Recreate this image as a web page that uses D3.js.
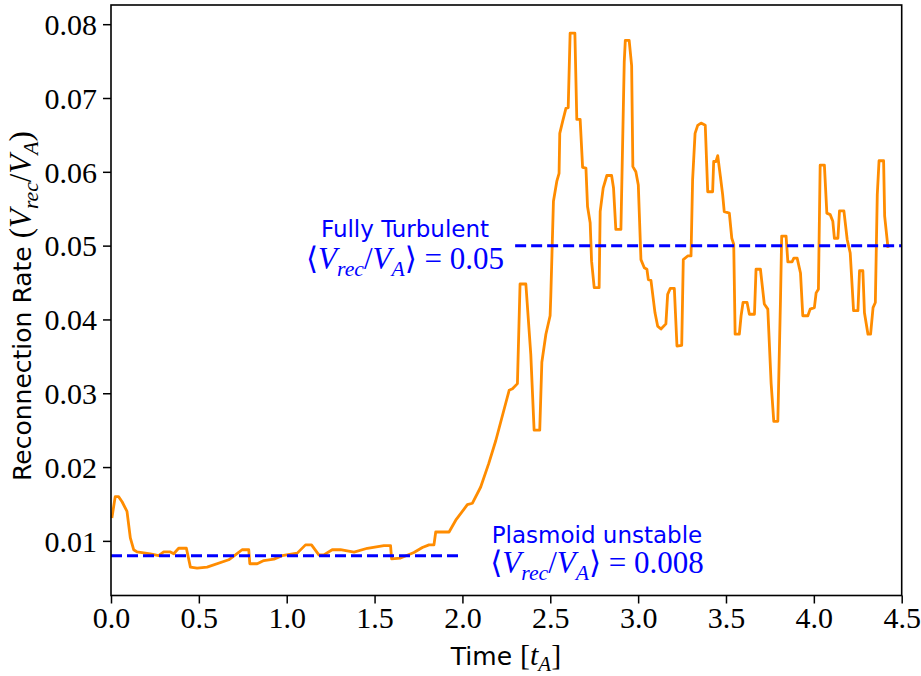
<!DOCTYPE html>
<html>
<head>
<meta charset="utf-8">
<script src="https://cdn.jsdelivr.net/npm/d3@7"></script>
<style>
  html, body { margin: 0; padding: 0; background: #fff; }
  svg { display: block; }
</style>
</head>
<body>
<svg id="chart" width="921" height="676"></svg>
<script>
// Reconnection rate time series (time in t_A, rate in V_A units)
const time = [
  0.005, 0.024, 0.043, 0.063, 0.091, 0.110, 0.129, 0.148, 0.224, 0.271,
  0.300, 0.338, 0.357, 0.385, 0.429, 0.452, 0.490, 0.547, 0.670, 0.708,
  0.746, 0.784, 0.790, 0.832, 0.870, 0.927, 0.974, 1.060, 1.107, 1.141,
  1.183, 1.211, 1.259, 1.306, 1.383, 1.459, 1.553, 1.591, 1.597, 1.648,
  1.724, 1.772, 1.810, 1.838, 1.848, 1.924, 1.962, 2.028, 2.057, 2.104,
  2.150, 2.190, 2.266, 2.285, 2.313, 2.328, 2.361, 2.389, 2.408, 2.440,
  2.452, 2.475, 2.499, 2.503, 2.518, 2.537, 2.550, 2.554, 2.570, 2.589,
  2.602, 2.613, 2.640, 2.651, 2.670, 2.684, 2.703, 2.712, 2.727, 2.735,
  2.750, 2.778, 2.784, 2.801, 2.822, 2.849, 2.860, 2.873, 2.902, 2.921,
  2.927, 2.949, 2.963, 2.970, 2.987, 3.001, 3.016, 3.035, 3.050, 3.058,
  3.073, 3.096, 3.111, 3.130, 3.158, 3.168, 3.183, 3.206, 3.221, 3.248,
  3.257, 3.282, 3.301, 3.310, 3.324, 3.339, 3.358, 3.382, 3.396, 3.424,
  3.430, 3.443, 3.453, 3.468, 3.481, 3.490, 3.519, 3.533, 3.544, 3.552,
  3.576, 3.586, 3.597, 3.620, 3.633, 3.662, 3.671, 3.696, 3.718, 3.738,
  3.757, 3.772, 3.795, 3.810, 3.817, 3.842, 3.852, 3.876, 3.886, 3.905,
  3.924, 3.937, 3.966, 3.979, 4.003, 4.013, 4.026, 4.036, 4.060, 4.074,
  4.093, 4.108, 4.117, 4.137, 4.146, 4.171, 4.190, 4.207, 4.226, 4.251,
  4.260, 4.279, 4.288, 4.308, 4.323, 4.337, 4.350, 4.361, 4.371, 4.397,
  4.403, 4.422
];
const rate = [
  0.0131, 0.0160, 0.0160, 0.0153, 0.0140, 0.0104, 0.0088, 0.0085, 0.00825, 0.0080,
  0.0085, 0.0085, 0.00825, 0.0090, 0.0090, 0.00645, 0.0063, 0.00645, 0.00744, 0.0081,
  0.0088, 0.0088, 0.0069, 0.0069, 0.00734, 0.00753, 0.0080, 0.00834, 0.00946, 0.00946,
  0.0081, 0.0081, 0.0088, 0.0088, 0.00847, 0.0090, 0.00937, 0.00937, 0.00757, 0.00767,
  0.00842, 0.0091, 0.00946, 0.00946, 0.0112, 0.0112, 0.0128, 0.0149, 0.0151, 0.0173,
  0.0205, 0.0236, 0.0304, 0.0306, 0.0313, 0.0448, 0.0448, 0.0353, 0.0250, 0.0250,
  0.0342, 0.0380, 0.0405, 0.0432, 0.0560, 0.0587, 0.0598, 0.0652, 0.0668, 0.0686,
  0.0687, 0.0788, 0.0788, 0.0671, 0.0671, 0.0606, 0.0605, 0.0553, 0.0531, 0.0479,
  0.0443, 0.0443, 0.0546, 0.0578, 0.0595, 0.0595, 0.0578, 0.0522, 0.0522, 0.0749,
  0.0778, 0.0778, 0.0744, 0.0607, 0.0600, 0.0582, 0.0481, 0.0470, 0.0468, 0.0454,
  0.0453, 0.0409, 0.0391, 0.0387, 0.0394, 0.0434, 0.0442, 0.0442, 0.0364, 0.0365,
  0.0481, 0.0486, 0.0486, 0.0589, 0.0652, 0.0663, 0.0666, 0.0663, 0.0573, 0.0573,
  0.0614, 0.0614, 0.0622, 0.0594, 0.0569, 0.0546, 0.0544, 0.0510, 0.0502, 0.0380,
  0.0380, 0.0405, 0.0423, 0.0423, 0.0407, 0.0407, 0.0468, 0.0468, 0.0421, 0.0414,
  0.0313, 0.0262, 0.0262, 0.0425, 0.0513, 0.0513, 0.0478, 0.0478, 0.0483, 0.0483,
  0.0463, 0.0405, 0.0405, 0.0414, 0.0416, 0.0436, 0.0441, 0.0609, 0.0609, 0.0544,
  0.0542, 0.0533, 0.0510, 0.0510, 0.0547, 0.0547, 0.0508, 0.0490, 0.0412, 0.0412,
  0.0466, 0.0466, 0.0409, 0.0380, 0.0380, 0.0416, 0.0423, 0.0569, 0.0615, 0.0615,
  0.0540, 0.0497
];

// Mean-rate reference levels: [t start, t end, value]
const plasmoidMean = [0.0, 2.0, 0.008];
const turbulentMean = [2.3, 4.5, 0.05];

const xTicks = [0.0, 0.5, 1.0, 1.5, 2.0, 2.5, 3.0, 3.5, 4.0, 4.5];
const yTicks = [0.01, 0.02, 0.03, 0.04, 0.05, 0.06, 0.07, 0.08];

const svg = d3.select("#chart");
const L = 111, R = 901.7, T = 5, B = 595.5;

const x = d3.scaleLinear().domain([0, 4.5]).range([L, R]);
const y = d3.scaleLinear().domain([0.0026, 0.0826]).range([B, T]);

const serif = "'Liberation Serif', 'DejaVu Serif', serif";
const sans = "'DejaVu Sans', sans-serif";

// Time series
const pts = time.map((t, i) => [t, rate[i]]);
svg.append("path")
  .datum(pts)
  .attr("fill", "none")
  .attr("stroke", "#ff8c00")
  .attr("stroke-width", 2.8)
  .attr("stroke-linejoin", "round")
  .attr("d", d3.line().x(d => x(d[0])).y(d => y(d[1])));

// Dashed mean levels
[plasmoidMean, turbulentMean].forEach(m => {
  svg.append("line")
    .attr("x1", x(m[0])).attr("x2", x(m[1]))
    .attr("y1", y(m[2])).attr("y2", y(m[2]))
    .attr("stroke", "#0000ff")
    .attr("stroke-width", 3)
    .attr("stroke-dasharray", "11,5");
});

// Axes
const xAxis = svg.append("g")
  .attr("transform", `translate(0,${B})`)
  .call(d3.axisBottom(x).tickValues(xTicks).tickFormat(d3.format(".1f")).tickSize(8).tickSizeOuter(0));
const yAxis = svg.append("g")
  .attr("transform", `translate(${L},0)`)
  .call(d3.axisLeft(y).tickValues(yTicks).tickFormat(d3.format(".2f")).tickSize(8).tickSizeOuter(0));

[xAxis, yAxis].forEach(g => {
  g.select(".domain").remove();
  g.selectAll(".tick line").attr("stroke", "#000").attr("stroke-width", 1.5);
  g.selectAll(".tick text")
    .attr("font-family", serif)
    .attr("font-size", 30)
    .attr("fill", "#000");
});
xAxis.selectAll(".tick text").attr("dy", null).attr("y", 32);
yAxis.selectAll(".tick text").attr("x", -14).attr("dy", "0.34em");

// Frame
svg.append("rect")
  .attr("x", L).attr("y", T)
  .attr("width", R - L).attr("height", B - T)
  .attr("fill", "none")
  .attr("stroke", "#000")
  .attr("stroke-width", 1.6);

// Writes <V_rec/V_A> style math into a text selection
function mathRatio(sel, size, brackets) {
  const sub = size * 0.7;
  const shift = size * 0.22;
  const big = tx => sel.append("tspan").attr("font-family", serif).attr("font-size", size).text(tx);
  big(brackets ? "\u27E8" : "(");
  big("V").attr("font-style", "italic");
  sel.append("tspan").attr("font-family", serif).attr("font-style", "italic")
    .attr("font-size", sub).attr("dy", shift).text("rec");
  big("/").attr("dy", -shift);
  big("V").attr("font-style", "italic");
  sel.append("tspan").attr("font-family", serif).attr("font-style", "italic")
    .attr("font-size", sub).attr("dy", shift).text("A");
  big(brackets ? "\u27E9" : ")").attr("dy", -shift);
}

// Axis labels
svg.append("text")
  .attr("x", 506).attr("y", 665)
  .attr("text-anchor", "middle")
  .attr("font-family", sans).attr("font-size", 25)
  .call(t => {
    t.append("tspan").text("Time ");
    t.append("tspan").attr("font-family", serif).attr("font-size", 30).text("[");
    t.append("tspan").attr("font-family", serif).attr("font-size", 30).attr("font-style", "italic").text("t");
    t.append("tspan").attr("font-family", serif).attr("font-size", 21).attr("font-style", "italic").attr("dy", 6).text("A");
    t.append("tspan").attr("font-family", serif).attr("font-size", 30).attr("dy", -6).text("]");
  });

const ylab = svg.append("text")
  .attr("transform", "translate(31,306) rotate(-90)")
  .attr("text-anchor", "middle")
  .attr("font-family", sans).attr("font-size", 25);
ylab.append("tspan").text("Reconnection Rate ");
mathRatio(ylab, 31, false);

// Annotations
function annotation(cx, y1, y2, title, value) {
  svg.append("text")
    .attr("x", cx).attr("y", y1)
    .attr("text-anchor", "middle")
    .attr("font-family", sans).attr("font-size", 23)
    .attr("fill", "#0000ff")
    .text(title);
  const t = svg.append("text")
    .attr("x", cx).attr("y", y2)
    .attr("text-anchor", "middle")
    .attr("fill", "#0000ff");
  mathRatio(t, 31, true);
  t.append("tspan").attr("font-family", serif).attr("font-size", 31).text(" = " + value);
}
annotation(405, 237, 269, "Fully Turbulent", "0.05");
annotation(597, 543, 573, "Plasmoid unstable", "0.008");
</script>
</body>
</html>
